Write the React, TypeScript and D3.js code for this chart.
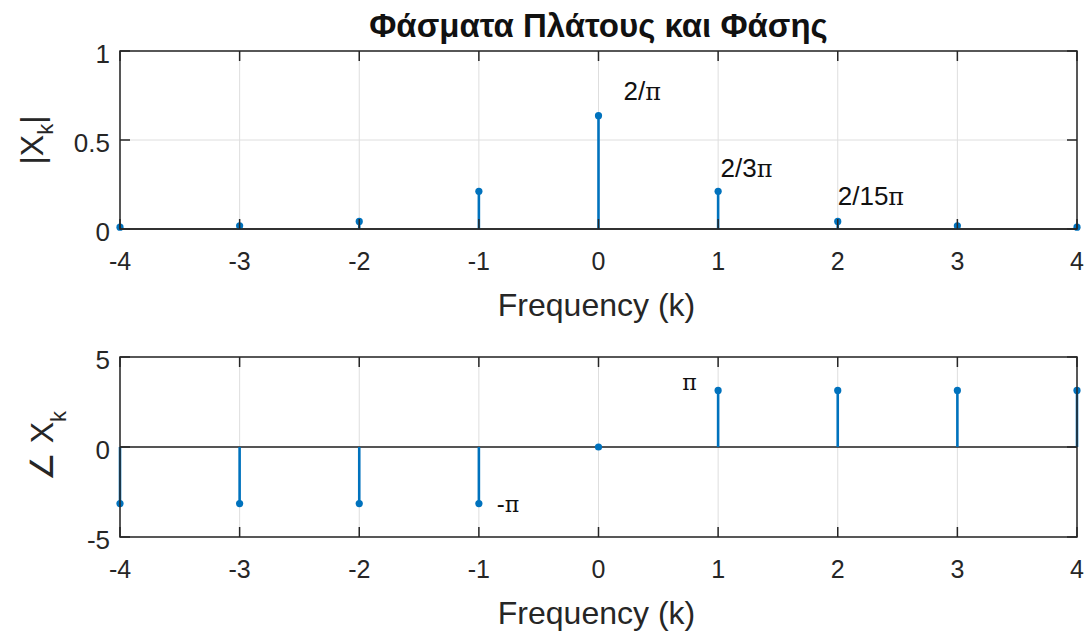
import React, { useRef, useEffect } from 'react';
import * as d3 from 'd3';

// frequency index k
const kValues = [-4, -3, -2, -1, 0, 1, 2, 3, 4];
// |X_k|
const magnitude = [0.0101, 0.0182, 0.0424, 0.2122, 0.6366, 0.2122, 0.0424, 0.0182, 0.0101];
// phase of X_k
const phase = [-Math.PI, -Math.PI, -Math.PI, -Math.PI, 0, Math.PI, Math.PI, Math.PI, Math.PI];

const magTicks = [0, 0.5, 1];
const phaseTicks = [-5, 0, 5];

const magNotes = [
    { x: 0.21, y: 0.725, pre: '2/', size: 26 },
    { x: 1.02, y: 0.292, pre: '2/3', size: 26 },
    { x: 2.0, y: 0.135, pre: '2/15', size: 26 },
];
const phaseNotes = [
    { x: 0.70, y: 3.17, pre: '', size: 24 },
    { x: -0.85, y: -3.6, pre: '-', size: 24 },
];

const W = 1085, H = 633;
const left = 120, right = 1077;
const blue = '#0072BD';
const axisColor = '#262626';
const font = '"Liberation Sans", Arial, Helvetica, sans-serif';

type Note = { x: number, y: number, pre: string, size: number };

const App = () => {
    const svgRef = useRef<SVGSVGElement>(null);

    useEffect(() => {
        const svg = d3.select(svgRef.current);
        svg.selectAll('*').remove();
        svg.style('font-family', font);

        const x = d3.scaleLinear().domain([-4, 4]).range([left, right]);

        function panel(top: number, bottom: number, domain: number[], ticks: number[], values: number[], notes: Note[]) {
            const y = d3.scaleLinear().domain(domain).range([bottom, top]);
            const g = svg.append('g');

            // grid
            g.selectAll('.gx').data(kValues).enter().append('line')
                .attr('x1', d => x(d)).attr('x2', d => x(d))
                .attr('y1', top).attr('y2', bottom)
                .attr('stroke', '#dedede').attr('stroke-width', 1);
            g.selectAll('.gy').data(ticks).enter().append('line')
                .attr('x1', left).attr('x2', right)
                .attr('y1', d => y(d)).attr('y2', d => y(d))
                .attr('stroke', '#dedede').attr('stroke-width', 1);

            // stem baseline
            g.append('line')
                .attr('x1', left).attr('x2', right)
                .attr('y1', y(0)).attr('y2', y(0))
                .attr('stroke', '#222').attr('stroke-width', 1.5);

            // stems
            const pts = kValues.map((k, i) => ({ k, v: values[i] }));
            g.selectAll('.stem').data(pts).enter().append('line')
                .attr('x1', d => x(d.k)).attr('x2', d => x(d.k))
                .attr('y1', y(0)).attr('y2', d => y(d.v))
                .attr('stroke', blue).attr('stroke-width', 2.6);
            g.selectAll('.dot').data(pts).enter().append('circle')
                .attr('cx', d => x(d.k)).attr('cy', d => y(d.v))
                .attr('r', 3.6).attr('fill', blue);

            // box
            g.append('rect')
                .attr('x', left).attr('y', top)
                .attr('width', right - left).attr('height', bottom - top)
                .attr('fill', 'none').attr('stroke', axisColor).attr('stroke-width', 1.5);

            // ticks inside, on all four sides
            const tl = 10;
            kValues.forEach(k => {
                g.append('line').attr('x1', x(k)).attr('x2', x(k)).attr('y1', bottom).attr('y2', bottom - tl)
                    .attr('stroke', axisColor).attr('stroke-width', 1.5);
                g.append('line').attr('x1', x(k)).attr('x2', x(k)).attr('y1', top).attr('y2', top + tl)
                    .attr('stroke', axisColor).attr('stroke-width', 1.5);
            });
            ticks.forEach(t => {
                g.append('line').attr('x1', left).attr('x2', left + tl).attr('y1', y(t)).attr('y2', y(t))
                    .attr('stroke', axisColor).attr('stroke-width', 1.5);
                g.append('line').attr('x1', right).attr('x2', right - tl).attr('y1', y(t)).attr('y2', y(t))
                    .attr('stroke', axisColor).attr('stroke-width', 1.5);
            });

            // tick labels
            g.selectAll('.xl').data(kValues).enter().append('text')
                .attr('x', d => x(d)).attr('y', bottom + 41)
                .attr('text-anchor', 'middle').attr('font-size', 25).attr('fill', axisColor)
                .text(d => String(d));
            g.selectAll('.yl').data(ticks).enter().append('text')
                .attr('x', left - 10).attr('y', d => y(d) + 12)
                .attr('text-anchor', 'end').attr('font-size', 26).attr('fill', axisColor)
                .text(d => String(d));

            // x label
            g.append('text')
                .attr('x', (left + right) / 2 - 2).attr('y', bottom + 87)
                .attr('text-anchor', 'middle').attr('font-size', 32).attr('fill', axisColor)
                .text('Frequency (k)');

            // annotations
            notes.forEach(n => {
                const t = g.append('text')
                    .attr('x', x(n.x)).attr('y', y(n.y))
                    .attr('font-size', n.size).attr('fill', '#111');
                if (n.pre) t.append('tspan').text(n.pre);
                t.append('tspan')
                    .attr('font-family', '"DejaVu Serif", "Liberation Serif", serif')
                    .attr('font-size', n.size * 0.92)
                    .text('\u03c0');
            });

            return g;
        }

        const g1 = panel(51, 229, [0, 1], magTicks, magnitude, magNotes);
        const g2 = panel(357, 537, [-5, 5], phaseTicks, phase, phaseNotes);

        // y labels
        const yl1 = g1.append('text')
            .attr('transform', `translate(43,${(51 + 229) / 2}) rotate(-90)`)
            .attr('text-anchor', 'middle').attr('font-size', 32).attr('fill', axisColor);
        yl1.append('tspan').text('|X');
        yl1.append('tspan').attr('font-size', 22).attr('dy', 10).text('k');
        yl1.append('tspan').attr('dy', -10).text('|');

        const yl2 = g2.append('text')
            .attr('transform', `translate(53,${(357 + 537) / 2 - 1}) rotate(-90)`)
            .attr('text-anchor', 'middle').attr('font-size', 32).attr('fill', axisColor);
        yl2.append('tspan').text('\u2220 X');
        yl2.append('tspan').attr('font-size', 22).attr('dy', 13).text('k');

        // title
        svg.append('text')
            .attr('x', (left + right) / 2).attr('y', 37)
            .attr('text-anchor', 'middle').attr('font-size', 33).attr('font-weight', 'bold')
            .attr('fill', '#111')
            .text('\u03a6\u03ac\u03c3\u03bc\u03b1\u03c4\u03b1 \u03a0\u03bb\u03ac\u03c4\u03bf\u03c5\u03c2 \u03ba\u03b1\u03b9 \u03a6\u03ac\u03c3\u03b7\u03c2');
    }, []);

    return <svg ref={svgRef} width={W} height={H} style={{ position: 'absolute', left: 0, top: 0, background: '#fff' }} />;
};

export default App;
